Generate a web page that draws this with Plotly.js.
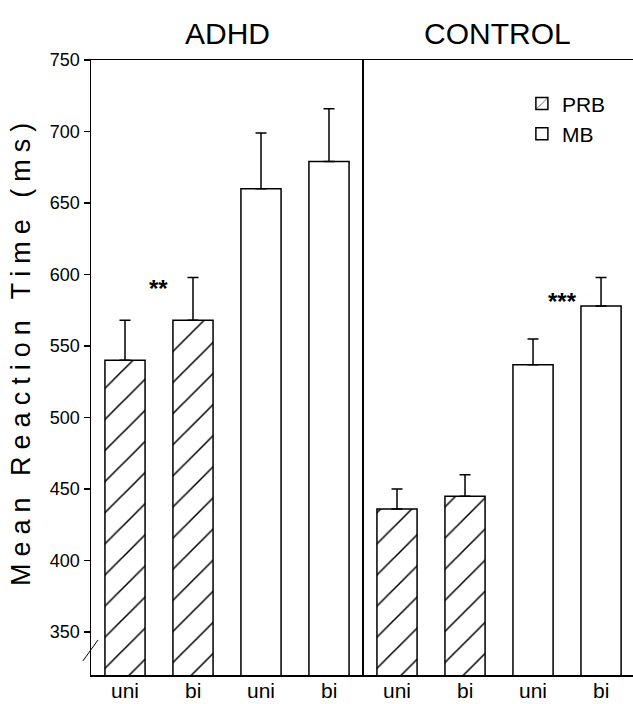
<!DOCTYPE html>
<html>
<head>
<meta charset="utf-8">
<script src="https://cdn.plot.ly/plotly-3.0.1.min.js"></script>
<style>
  html, body { margin: 0; padding: 0; background: #fff; }
  #chart { width: 633px; height: 704px; }
  .annotation[data-index="4"] text { letter-spacing: 7px; }
</style>
</head>
<body>
<div id="chart"></div>
<script>
// ---- data ----
const tickLabels = ["uni", "bi", "uni", "bi"];
const groups = ["ADHD", "CONTROL"];
const seriesNames = ["PRB", "MB"];
const yTitle = "Mean Reaction Time (ms)";

const adhdPRB = [540, 568];
const adhdPRBErr = [28, 30];
const adhdMB = [660, 679];
const adhdMBErr = [39, 37];

const ctrlPRB = [436, 445];
const ctrlPRBErr = [14, 15];
const ctrlMB = [537, 578];
const ctrlMBErr = [18, 20];

const sigLabels = ["**", "***"];
const sigY = [590, 581];

const yTicks = [350, 400, 450, 500, 550, 600, 650, 700, 750];

// ---- styling ----
const sans = "Liberation Sans, Arial, sans-serif";
const barW = 0.59;

function barTrace(x, y, err, name, hatched, xa, showLeg) {
  return {
    type: "bar",
    x: x, y: y, name: name,
    xaxis: xa, yaxis: "y",
    width: barW,
    showlegend: showLeg,
    legendgroup: name,
    marker: {
      color: "#ffffff",
      line: { color: "#000000", width: 1.5 },
      pattern: hatched ? { shape: "/", fgcolor: "#000000", bgcolor: "#ffffff", size: 22, solidity: 0.07 } : { shape: "" }
    },
    error_y: {
      type: "data", symmetric: false, array: err, arrayminus: err.map(() => 0),
      color: "#000000", thickness: 1.5, width: 5.5
    },
    hoverinfo: "skip"
  };
}

const traces = [
  barTrace([0, 1], adhdPRB, adhdPRBErr, seriesNames[0], true, "x", true),
  barTrace([2, 3], adhdMB, adhdMBErr, seriesNames[1], false, "x", true),
  barTrace([0, 1], ctrlPRB, ctrlPRBErr, seriesNames[0], true, "x2", false),
  barTrace([2, 3], ctrlMB, ctrlMBErr, seriesNames[1], false, "x2", false)
];

const split = 272 / 542;
const tickPos = [0, 1, 2, 3];

const xCommon = {
  tickvals: tickPos, ticktext: tickLabels, showticklabels: false,
  showline: true, linecolor: "#000", linewidth: 1.5, mirror: true,
  ticks: "", showgrid: false, zeroline: false, fixedrange: true,
  anchor: "y"
};

const annotations = [
  { text: groups[0], xref: "paper", yref: "paper", x: split / 2, y: 1.043, xanchor: "center", yanchor: "middle", showarrow: false, font: { family: sans, size: 30, color: "#000" } },
  { text: groups[1], xref: "paper", yref: "paper", x: split + (1 - split) / 2, y: 1.043, xanchor: "center", yanchor: "middle", showarrow: false, font: { family: sans, size: 30, color: "#000" } },
  { text: sigLabels[0], xref: "x", yref: "y", x: 0.49, y: sigY[0], showarrow: false, font: { family: sans, size: 24, color: "#000", weight: "bold" } },
  { text: sigLabels[1], xref: "x2", yref: "y", x: 2.43, y: sigY[1], showarrow: false, font: { family: sans, size: 24, color: "#000", weight: "bold" } },
  { text: yTitle, xref: "paper", yref: "paper", x: -0.13, y: 0.527, xanchor: "center", yanchor: "middle", textangle: -90, showarrow: false, font: { family: sans, size: 27, color: "#000" } }
];
// category labels under each panel, drawn from the tickLabels array
["x", "x2"].forEach(function (xa) {
  tickPos.forEach(function (p, i) {
    annotations.push({
      text: tickLabels[i], xref: xa, yref: "paper", x: p, y: -0.004,
      xanchor: "center", yanchor: "top", showarrow: false,
      font: { family: sans, size: 21, color: "#000" }
    });
  });
});

const layout = {
  width: 633, height: 704,
  margin: { l: 91, r: 0, t: 60, b: 29 },
  paper_bgcolor: "#fff", plot_bgcolor: "#fff",
  barmode: "overlay",
  showlegend: true,
  legend: {
    x: 0.795, y: 0.962, xanchor: "left", yanchor: "top",
    font: { family: sans, size: 21, color: "#000" },
    bgcolor: "rgba(0,0,0,0)", tracegroupgap: 0, itemwidth: 30
  },
  xaxis: Object.assign({}, xCommon, { domain: [0, split], range: [-0.5, 3.5] }),
  xaxis2: Object.assign({}, xCommon, { domain: [split, 1], range: [-0.5, 3.47] }),
  yaxis: {
    range: [320, 750], tickvals: yTicks, ticktext: yTicks.map(String),
    ticks: "outside", ticklen: 6, tickwidth: 1.5, tickcolor: "#000",
    showline: true, linecolor: "#000", linewidth: 1.5,
    showgrid: false, zeroline: false, fixedrange: true,
    tickfont: { family: sans, size: 18, color: "#000" }
  },
  shapes: [
    { type: "line", xref: "paper", yref: "paper", x0: split, x1: split, y0: 0, y1: 1, line: { color: "#000", width: 2 } },
    { type: "line", xref: "paper", yref: "paper", x0: -0.0148, x1: 0.0129, y0: 0.023, y1: 0.057, line: { color: "#000", width: 1 } }
  ],
  annotations: annotations
};

Plotly.newPlot("chart", traces, layout, { staticPlot: true, displayModeBar: false });
</script>
</body>
</html>
